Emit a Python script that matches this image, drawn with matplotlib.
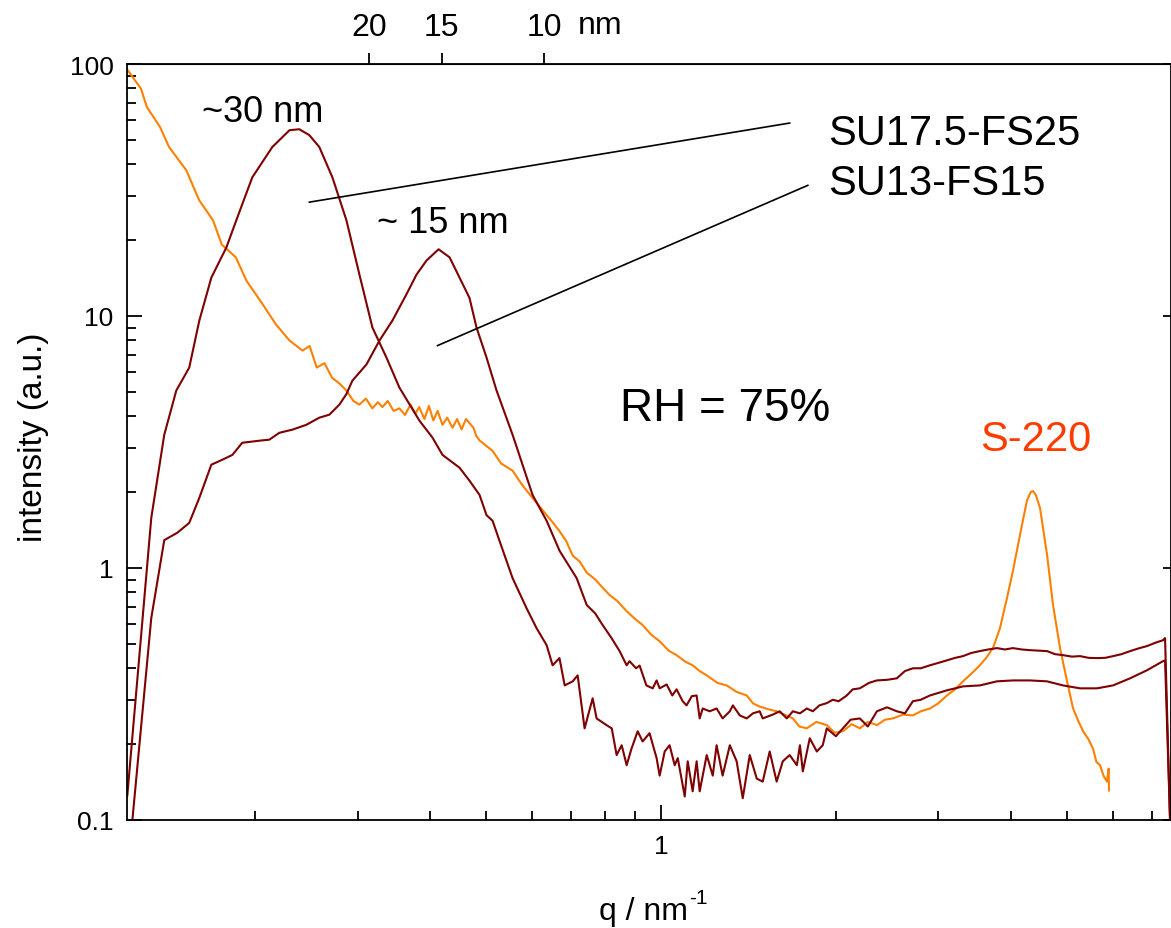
import numpy as np
import matplotlib
matplotlib.use("Agg")
import matplotlib.pyplot as plt
from matplotlib.ticker import FuncFormatter, NullFormatter, NullLocator, LogLocator

plt.rcParams['font.family'] = ['Liberation Sans', 'DejaVu Sans']
plt.rcParams['mathtext.default'] = 'regular'

# S-220 (orange): q in nm^-1, intensity in a.u.
q_s220 = [0.120, 0.127, 0.130, 0.137, 0.142, 0.152, 0.160, 0.169, 0.175, 0.185,
          0.193, 0.206, 0.217, 0.229, 0.241, 0.248, 0.255, 0.263, 0.271, 0.279,
          0.287, 0.295, 0.302, 0.310, 0.318, 0.325, 0.331, 0.338, 0.346, 0.354,
          0.362, 0.370, 0.377, 0.383, 0.391, 0.398, 0.405, 0.412, 0.420, 0.428,
          0.437, 0.445, 0.453, 0.461, 0.468, 0.475, 0.480, 0.487, 0.500, 0.512,
          0.530, 0.555, 0.575, 0.600, 0.618, 0.635, 0.650, 0.668, 0.686, 0.704,
          0.724, 0.744, 0.770, 0.795, 0.815, 0.840, 0.872, 0.900, 0.929, 0.960,
          0.994, 1.030, 1.063, 1.100, 1.133, 1.165, 1.198, 1.250, 1.297, 1.350,
          1.404, 1.440, 1.478, 1.530, 1.581, 1.630, 1.686, 1.730, 1.782, 1.850,
          1.929, 1.990, 2.056, 2.130, 2.199, 2.270, 2.353, 2.430, 2.507, 2.610,
          2.714, 2.800, 2.904, 3.000, 3.106, 3.210, 3.311, 3.420, 3.540, 3.630,
          3.729, 3.834, 3.942, 4.036, 4.150, 4.267, 4.330, 4.370, 4.420, 4.494,
          4.621, 4.732, 4.866, 5.003, 5.124, 5.220, 5.331, 5.440, 5.546, 5.620,
          5.702, 5.780, 5.862, 5.900, 5.909]
i_s220 = [95.8, 79.8, 67.5, 56.2, 46.8, 37.9, 28.8, 24.0, 19.2, 17.1,
          13.8, 11.1, 9.25, 7.99, 7.29, 7.6, 6.24, 6.5, 5.69, 5.4,
          5.06, 4.6, 4.45, 4.7, 4.3, 4.55, 4.35, 4.6, 4.2, 4.3,
          4.05, 4.45, 4.1, 4.35, 3.9, 4.4, 3.85, 4.2, 3.7, 3.95,
          3.6, 3.9, 3.55, 3.9, 3.75, 3.6, 3.35, 3.2, 3.05, 2.92,
          2.6, 2.43, 2.15, 1.90, 1.75, 1.62, 1.52, 1.40, 1.28, 1.12,
          1.06, 0.96, 0.90, 0.83, 0.781, 0.74, 0.674, 0.63, 0.594, 0.545,
          0.512, 0.47, 0.451, 0.425, 0.411, 0.39, 0.375, 0.35, 0.342, 0.322,
          0.312, 0.29, 0.282, 0.275, 0.270, 0.262, 0.253, 0.235, 0.231, 0.245,
          0.238, 0.222, 0.225, 0.24, 0.231, 0.245, 0.238, 0.25, 0.253, 0.262,
          0.260, 0.27, 0.277, 0.29, 0.312, 0.33, 0.355, 0.38, 0.411, 0.44,
          0.481, 0.577, 0.760, 0.973, 1.35, 1.85, 2.0, 2.02, 1.95, 1.73,
          1.13, 0.713, 0.481, 0.355, 0.277, 0.25, 0.225, 0.21, 0.192, 0.17,
          0.165, 0.15, 0.142, 0.16, 0.131]

# SU13-FS15 (peak near 15 nm)
q_su13 = [0.1227, 0.1323, 0.1393, 0.1467, 0.1538, 0.1601, 0.1679, 0.1754, 0.1825, 0.1898,
          0.2031, 0.2113, 0.2199, 0.2316, 0.2447, 0.2577, 0.2682, 0.2790, 0.2869, 0.2938,
          0.3106, 0.3271, 0.3444, 0.3641, 0.3789, 0.3942, 0.4135, 0.4319, 0.4494, 0.4675,
          0.4807, 0.5002, 0.5205, 0.5546, 0.6004, 0.6348, 0.6683, 0.7150, 0.7443, 0.770,
          0.7927, 0.820, 0.848, 0.872, 0.882, 0.905, 0.918, 0.943, 0.967, 0.982,
          0.994, 1.022, 1.045, 1.063, 1.089, 1.106, 1.129, 1.151, 1.165, 1.179,
          1.212, 1.246, 1.276, 1.313, 1.329, 1.366, 1.404, 1.439, 1.478, 1.496,
          1.557, 1.600, 1.646, 1.686, 1.734, 1.782, 1.825, 1.873, 1.929, 1.975,
          2.022, 2.088, 2.138, 2.199, 2.280, 2.353, 2.450, 2.547, 2.630, 2.714,
          2.800, 2.904, 3.000, 3.106, 3.210, 3.311, 3.420, 3.540, 3.660, 3.788,
          3.910, 4.036, 4.180, 4.318, 4.470, 4.621, 4.770, 4.924, 5.100, 5.268,
          5.450, 5.635, 5.820, 6.003, 6.210, 6.425, 6.650, 6.872, 7.100, 7.322,
          7.380, 7.528]
i_su13 = [0.099, 0.633, 1.29, 1.38, 1.51, 1.90, 2.57, 2.69, 2.81, 3.14,
          3.20, 3.23, 3.44, 3.54, 3.70, 3.95, 4.06, 4.45, 4.9, 5.54,
          6.42, 7.99, 9.60, 12.2, 14.6, 16.6, 18.4, 17.1, 14.2, 11.8,
          9.00, 6.84, 5.06, 3.38, 1.95, 1.54, 1.17, 0.912, 0.713, 0.66,
          0.594, 0.53, 0.468, 0.411, 0.427, 0.40, 0.41, 0.342, 0.333, 0.358,
          0.333, 0.345, 0.312, 0.33, 0.296, 0.285, 0.31, 0.312, 0.253, 0.277,
          0.270, 0.277, 0.253, 0.270, 0.285, 0.260, 0.253, 0.265, 0.270, 0.253,
          0.262, 0.270, 0.253, 0.270, 0.265, 0.277, 0.270, 0.285, 0.291, 0.30,
          0.296, 0.312, 0.33, 0.333, 0.35, 0.358, 0.36, 0.365, 0.39, 0.400,
          0.40, 0.411, 0.42, 0.430, 0.44, 0.447, 0.46, 0.468, 0.475, 0.481,
          0.475, 0.481, 0.475, 0.472, 0.47, 0.468, 0.455, 0.451, 0.445, 0.447,
          0.44, 0.439, 0.44, 0.447, 0.455, 0.468, 0.48, 0.490, 0.505, 0.517,
          0.527, 0.099]

# SU17.5-FS25 (peak near 30 nm)
q_su17 = [0.1203, 0.1323, 0.1393, 0.1461, 0.1538, 0.1601, 0.1679, 0.1782, 0.1854, 0.1975,
          0.2138, 0.2289, 0.2380, 0.2477, 0.2577, 0.2714, 0.2869, 0.3021, 0.3181, 0.3363,
          0.3540, 0.3834, 0.4037, 0.4201, 0.4494, 0.4675, 0.4865, 0.5002, 0.5123, 0.5267,
          0.5546, 0.5862, 0.6100, 0.6348, 0.6501, 0.668, 0.682, 0.704, 0.718, 0.738,
          0.762, 0.774, 0.805, 0.822, 0.838, 0.855, 0.872, 0.889, 0.911, 0.929,
          0.955, 0.982, 0.994, 1.014, 1.034, 1.055, 1.068, 1.098, 1.111, 1.133,
          1.151, 1.165, 1.198, 1.227, 1.246, 1.276, 1.313, 1.349, 1.382, 1.421,
          1.461, 1.496, 1.538, 1.581, 1.620, 1.665, 1.713, 1.734, 1.754, 1.803,
          1.854, 1.898, 1.929, 2.000, 2.056, 2.120, 2.199, 2.270, 2.353, 2.450,
          2.547, 2.630, 2.714, 2.800, 2.904, 3.106, 3.311, 3.540, 3.788, 4.036,
          4.318, 4.621, 4.924, 5.268, 5.635, 6.003, 6.425, 6.872, 7.322, 7.380,
          7.528]
i_su17 = [0.125, 1.58, 3.38, 5.06, 6.24, 9.60, 14.2, 18.7, 24.0, 35.5,
          46.8, 54.6, 55.1, 52.2, 46.8, 35.5, 24.0, 14.6, 9.00, 6.84,
          5.20, 3.84, 3.29, 2.81, 2.50, 2.22, 1.95, 1.62, 1.54, 1.28,
          0.912, 0.693, 0.577, 0.494, 0.411, 0.439, 0.342, 0.355, 0.375, 0.231,
          0.304, 0.253, 0.238, 0.231, 0.181, 0.198, 0.165, 0.192, 0.225, 0.205,
          0.221, 0.176, 0.150, 0.187, 0.198, 0.165, 0.176, 0.124, 0.171, 0.130,
          0.171, 0.130, 0.181, 0.150, 0.198, 0.150, 0.198, 0.171, 0.122, 0.181,
          0.146, 0.142, 0.187, 0.142, 0.171, 0.181, 0.165, 0.198, 0.156, 0.211,
          0.187, 0.198, 0.231, 0.215, 0.231, 0.25, 0.253, 0.235, 0.270, 0.28,
          0.270, 0.265, 0.296, 0.30, 0.312, 0.327, 0.339, 0.342, 0.355, 0.358,
          0.358, 0.355, 0.342, 0.333, 0.333, 0.342, 0.365, 0.393, 0.427, 0.430,
          0.099]

# leader lines from the sample names to their curves: (q0, q1), (I0, I1)
leader_su17 = ([0.2477, 1.665], [28.3, 58.3])
leader_su13 = ([0.4118, 1.789], [7.63, 33.0])

d_ticks = [20, 15, 10]

dark_red = '#7f0000'
orange = '#ff8000'

fig = plt.figure(figsize=(11.71, 9.29), dpi=100)
ax = fig.add_axes([127.3 / 1171, 108 / 929, (1171 - 127.3) / 1171, 756 / 929])

ax.plot(q_s220, i_s220, color=orange, lw=1.5)
ax.plot(q_su17, i_su17, color=dark_red, lw=1.5)
ax.plot(q_su13, i_su13, color=dark_red, lw=1.5)

ax.plot(*leader_su17, color='black', lw=1.2)
ax.plot(*leader_su13, color='black', lw=1.2)

ax.set_xscale('log')
ax.set_yscale('log')
ax.set_xlim(0.1203, 7.556)
ax.set_ylim(0.1, 100)

fmt = FuncFormatter(lambda v, p: f'{v:g}')
ax.xaxis.set_major_formatter(fmt)
ax.yaxis.set_major_formatter(fmt)
ax.xaxis.set_minor_formatter(NullFormatter())
ax.yaxis.set_minor_formatter(NullFormatter())
ax.xaxis.set_minor_locator(LogLocator(base=10, subs=range(2, 10)))
ax.yaxis.set_minor_locator(LogLocator(base=10, subs=range(2, 10)))

ax.tick_params(which='both', direction='in', top=False, right=False,
               labelsize=19, width=1.3, pad=10)
ax.tick_params(which='major', length=11)
ax.tick_params(which='minor', length=6.5)
for s in ax.spines.values():
    s.set_linewidth(1.3)

# right side: short major ticks only
secy = ax.secondary_yaxis('right')
secy.set_yticks([0.1, 1, 10, 100])
secy.yaxis.set_minor_locator(NullLocator())
secy.tick_params(direction='in', length=6, width=1.3, labelright=False)

# top axis: real-space distance d = 2*pi/q
secx = ax.secondary_xaxis('top', functions=(lambda q: 2 * np.pi / q,
                                            lambda d: 2 * np.pi / d))
secx.set_xticks(d_ticks)
secx.set_xticklabels([str(d) for d in d_ticks])
secx.xaxis.set_minor_locator(NullLocator())
secx.tick_params(direction='out', length=8, width=1.3, labelsize=23, pad=8)
fig.text(600 / 1171, 1 - 34.3 / 929, 'nm', ha='center', va='baseline', fontsize=23)

# x label with a small raised "-1"
fig.text(599 / 1171, 1 - 920 / 929, 'q / nm', ha='left', va='baseline', fontsize=23)
fig.text(689 / 1171, 1 - 904 / 929, '-1', ha='left', va='baseline', fontsize=15)
fig.text(33.5 / 1171, 1 - 437 / 929, 'intensity (a.u.)', rotation=90,
         ha='center', va='center', fontsize=24)

ax.text(0.162, 59.3, '~30 nm', fontsize=26, va='baseline')
ax.text(0.3245, 21.5, '~ 15 nm', fontsize=26, va='baseline')
ax.text(1.937, 48.1, 'SU17.5-FS25', fontsize=30, va='baseline')
ax.text(1.937, 30.4, 'SU13-FS15', fontsize=30, va='baseline')
ax.text(0.848, 3.88, 'RH = 75%', fontsize=33, va='baseline')
ax.text(3.54, 2.95, 'S-220', fontsize=30, va='baseline', color='#ff3c00')

fig.savefig('out.png', dpi=100)
